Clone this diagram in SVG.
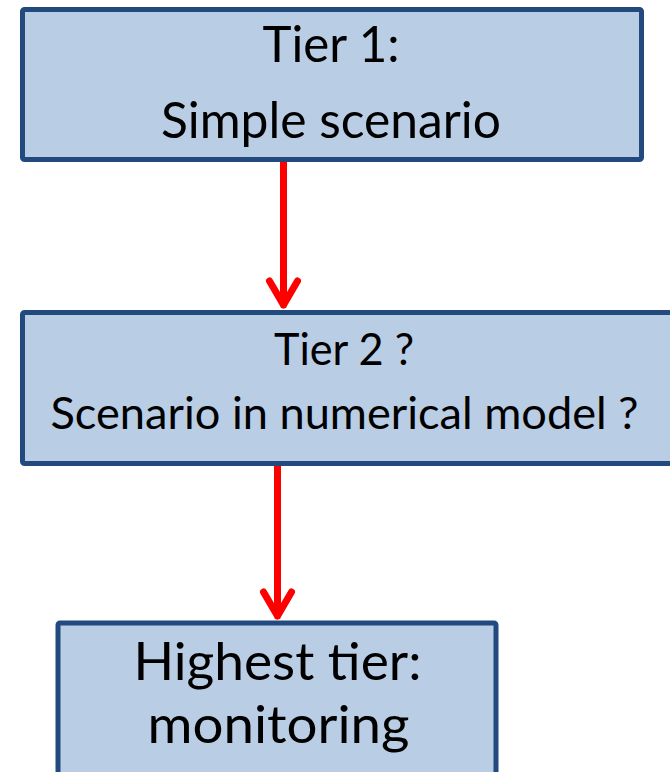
<svg xmlns="http://www.w3.org/2000/svg" width="670" height="772" viewBox="0 0 670 772">
<style>
.box{fill:#B9CDE5;stroke:#224A7E;stroke-width:5;stroke-linejoin:round}
.t{font-family:Lato,"Open Sans","Liberation Sans",sans-serif;fill:#000;text-anchor:middle}
.arr{fill:none;stroke:#FF0000;stroke-width:7;stroke-linecap:round;stroke-linejoin:round}
</style>
<rect width="670" height="772" fill="#FFFFFF"/>
<g id="connectors">
<path class="arr" d="M283.5 162 V305 M269.5 281 L283.5 305 L297.5 281"/>
<path class="arr" d="M277.5 466 V616 M263.5 592 L277.5 616 L291.5 592"/>
</g>
<g id="tier1">
<rect class="box" x="22.5" y="9.5" width="619" height="150" rx="2"/>
<text class="t" x="331" y="62" font-size="49.5" textLength="137" lengthAdjust="spacingAndGlyphs">Tier 1:</text>
<text class="t" x="331" y="138" font-size="49.5" textLength="340" lengthAdjust="spacingAndGlyphs">Simple scenario</text>
</g>
<g id="tier2">
<rect class="box" x="22.5" y="312.5" width="680" height="151" rx="2"/>
<text class="t" x="344" y="365" font-size="44.5" textLength="140" lengthAdjust="spacingAndGlyphs">Tier 2 ?</text>
<text class="t" x="344.5" y="429" font-size="44.5" textLength="588" lengthAdjust="spacingAndGlyphs">Scenario in numerical model ?</text>
</g>
<g id="highest">
<rect class="box" x="58" y="623" width="438" height="170" rx="2"/>
<text class="t" x="277.5" y="680" font-size="52.5" textLength="288" lengthAdjust="spacingAndGlyphs">Highest tier:</text>
<text class="t" x="278.5" y="743" font-size="52.5" textLength="262" lengthAdjust="spacingAndGlyphs">monitoring</text>
</g>
</svg>
